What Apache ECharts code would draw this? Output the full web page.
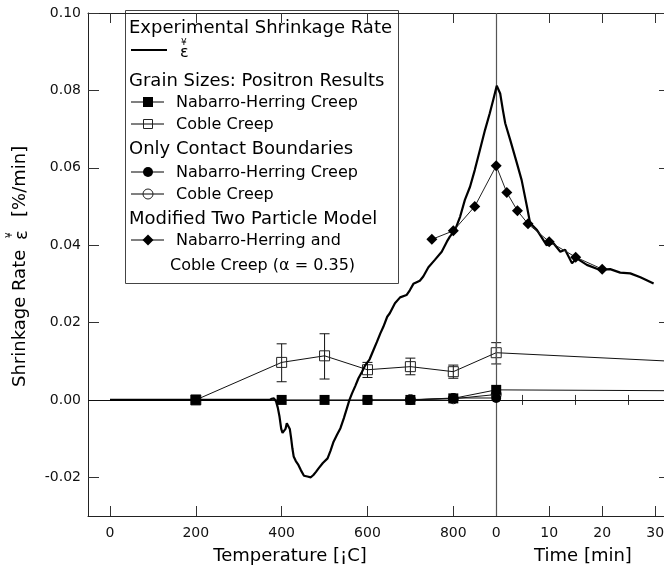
<!DOCTYPE html>
<html><head><meta charset="utf-8">
<script src="https://cdn.jsdelivr.net/npm/echarts@6/dist/echarts.min.js"></script>
<style>html,body{margin:0;padding:0;background:#fff}#c{width:664px;height:569px}</style>
</head><body><div id="c"></div>
<script>
// ---------- tick labels ----------
const tempTicks = [0, 200, 400, 600, 800];          // °C
const timeTicks = [0, 10, 20, 30];                  // min
const timeMinorTicks = [5, 15, 25];                 // min
const yTicks = [-0.02, 0.00, 0.02, 0.04, 0.06, 0.08, 0.10];

// ---------- experimental shrinkage rate ----------
const expHeat = [[0,0],[100,0],[200,0],[300,0],[372,0],[377,0.0003],[382,0.0004],[387,-0.0004],[391,-0.002],[395,-0.0043],[399,-0.0075],[402,-0.0085],[406,-0.0088],[409,-0.0075],[412,-0.006],[416,-0.0056],[419,-0.0075],[422,-0.0098],[425,-0.0125],[428,-0.0146],[433,-0.0158],[439,-0.0168],[445,-0.0182],[452,-0.0196],[460,-0.0198],[468,-0.0200],[474,-0.0194],[480,-0.0186],[486,-0.0177],[496,-0.0163],[507,-0.0151],[514,-0.0131],[521,-0.0108],[529,-0.009],[537,-0.0073],[545,-0.0047],[552,-0.0022],[558,0],[564,0.0017],[572,0.0037],[579,0.0056],[587,0.0072],[595,0.009],[605,0.0105],[614,0.0129],[622,0.015],[630,0.0172],[637,0.0189],[646,0.0215],[652,0.0224],[664,0.025],[676,0.0265],[691,0.0271],[699,0.0284],[707,0.03],[722,0.0308],[730,0.0319],[742,0.0343],[757,0.0362],[773,0.0383],[785,0.0409],[792,0.0422],[804,0.0439],[816,0.0474],[827,0.0517],[839,0.0551],[850,0.0594],[862,0.0646],[874,0.0698],[885,0.0741],[893,0.0775]];
const expIso = [[0.1,0.0812],[0.25,0.0817],[0.75,0.0792],[1.26,0.0749],[1.7,0.0715],[2.64,0.0672],[3.9,0.0612],[4.8,0.0568],[5.8,0.05],[6.4,0.0457],[7.7,0.0439],[8.9,0.0413],[9.5,0.04],[10.8,0.0405],[12.1,0.0383],[13,0.0388],[14.3,0.0353],[15.2,0.0366],[17.1,0.0349],[19.6,0.0336],[21.5,0.0338],[23.4,0.0329],[25.3,0.0327],[27.2,0.0317],[29.7,0.0301]];

// ---------- grain sizes: positron results ----------
const nhGrainHeat = [[200,0],[400,0],[500,0],[600,0],[700,0],[800,0.0004]];
const nhGrainIso = [[0,0.0026],[60,0.0022]];
const cobleGrainHeat = [[200,0],[400,0.0097],[500,0.0114],[600,0.0078],[700,0.0086],[800,0.0073]];
const cobleGrainIso = [[0,0.0122],[60,0.0082]];
const cobleGrainErrHeat = [[400,0.0047,0.0145],[500,0.0054,0.0171],[600,0.0058,0.0097],[700,0.0065,0.0108],[800,0.0056,0.009]];
const cobleGrainErrIso = [[0,0.0093,0.0148]];

// ---------- only contact boundaries ----------
const nhContactHeat = [[600,0],[700,0],[800,0.0005]];
const nhContactIso = [[0,0.0005]];
const cobleContactHeat = [[700,0.0001],[800,0.0003]];
const cobleContactIso = [[0,0.0014]];

// ---------- modified two particle model ----------
const modelHeat = [[750,0.0415],[800,0.0437],[850,0.05]];
const modelIso = [[0,0.0605],[2,0.0536],[4,0.0489],[6,0.0455],[10,0.0409],[15,0.0369],[20,0.0338]];

// ---------- combined axis mapping ----------
const TIME_ORIGIN = 900;      // axis unit where the isothermal time axis starts
const UNITS_PER_MIN = 12.35;  // axis units per minute
const X_MIN = -51.27, X_MAX = 1291.0;
const tU = t => TIME_ORIGIN + UNITS_PER_MIN * t;
const join = (heat, iso) => heat.map(p => [p[0], p[1]]).concat(iso.map(p => [tU(p[0]), p[1]]));

const majorU = tempTicks.concat(timeTicks.map(tU));
const minorU = timeMinorTicks.map(tU);
const FONT = '"DejaVu Sans", sans-serif';

function fmtX(v) {
  if (v <= 800.5) return String(Math.round(v));
  return String(Math.round((v - TIME_ORIGIN) / UNITS_PER_MIN));
}

const errAll = cobleGrainErrHeat.concat(cobleGrainErrIso);
const errData = join(cobleGrainErrHeat, cobleGrainErrIso).map((p, i) => [p[0], errAll[i][1], errAll[i][2]]);

const chart = echarts.init(document.getElementById('c'), null, {renderer: 'canvas'});

const baseX = {type: 'value', min: X_MIN, max: X_MAX, splitLine: {show: false}};
const option = {
  animation: false,
  backgroundColor: '#fff',
  grid: {left: 88, right: 0, top: 13, bottom: 53, containLabel: false, outerBoundsMode: 'none'},
  xAxis: [
    Object.assign({}, baseX, {position: 'bottom',
      axisLine: {show: true, onZero: false, lineStyle: {color: '#222', width: 1}},
      axisTick: {show: true, inside: true, length: 10, customValues: majorU, lineStyle: {color: '#333'}},
      axisLabel: {show: true, customValues: majorU, formatter: fmtX, margin: 10, color: '#111', fontSize: 14, fontFamily: FONT}}),
    Object.assign({}, baseX, {position: 'bottom',
      axisLine: {show: false},
      axisTick: {show: true, inside: true, length: 5, customValues: minorU, lineStyle: {color: '#333'}},
      axisLabel: {show: false}}),
    Object.assign({}, baseX, {position: 'top',
      axisLine: {show: true, onZero: false, lineStyle: {color: '#222', width: 1}},
      axisTick: {show: true, inside: true, length: 10, customValues: majorU, lineStyle: {color: '#333'}},
      axisLabel: {show: false}}),
    Object.assign({}, baseX, {position: 'top',
      axisLine: {show: false},
      axisTick: {show: true, inside: true, length: 5, customValues: minorU, lineStyle: {color: '#333'}},
      axisLabel: {show: false}})
  ],
  yAxis: [
    {type: 'value', min: -0.03, max: 0.10, position: 'left', splitLine: {show: false},
      axisLine: {show: true, onZero: false, lineStyle: {color: '#222', width: 1}},
      axisTick: {show: true, inside: true, length: 11, customValues: yTicks, lineStyle: {color: '#333'}},
      axisLabel: {show: true, customValues: yTicks, formatter: v => v.toFixed(2), margin: 7, color: '#111', fontSize: 14, fontFamily: FONT}},
    {type: 'value', min: -0.03, max: 0.10, position: 'right', splitLine: {show: false},
      axisLine: {show: false, onZero: false},
      axisTick: {show: true, inside: true, length: 5, customValues: yTicks, lineStyle: {color: '#333'}},
      axisLabel: {show: false}}
  ],
  series: [
    {type: 'line', name: 'ref', data: [], z: 1,
      markLine: {silent: true, symbol: 'none', label: {show: false}, animation: false,
        data: [
          {yAxis: 0, lineStyle: {color: '#111', width: 1, type: 'solid'}},
          {xAxis: TIME_ORIGIN, lineStyle: {color: '#555', width: 1.2, type: 'solid'}}
        ]}},
    {type: 'custom', name: 'err', z: 3, data: errData,
      renderItem: function (params, api) {
        const x = api.value(0);
        const lo = api.coord([x, api.value(1)]);
        const hi = api.coord([x, api.value(2)]);
        const w = 5;
        const st = {stroke: '#111', lineWidth: 1};
        return {type: 'group', children: [
          {type: 'line', shape: {x1: lo[0], y1: lo[1], x2: hi[0], y2: hi[1]}, style: st},
          {type: 'line', shape: {x1: lo[0] - w, y1: lo[1], x2: lo[0] + w, y2: lo[1]}, style: st},
          {type: 'line', shape: {x1: hi[0] - w, y1: hi[1], x2: hi[0] + w, y2: hi[1]}, style: st}
        ]};
      }},
    {type: 'line', name: 'Coble grain', z: 4, data: join(cobleGrainHeat, cobleGrainIso),
      symbol: 'rect', symbolSize: 10, showAllSymbol: true,
      lineStyle: {color: '#111', width: 1},
      itemStyle: {color: 'rgba(0,0,0,0)', borderColor: '#222', borderWidth: 1}},
    {type: 'line', name: 'Coble contact', z: 4, data: join(cobleContactHeat, cobleContactIso),
      symbol: 'circle', symbolSize: 10, showAllSymbol: true,
      lineStyle: {color: '#111', width: 1},
      itemStyle: {color: 'rgba(0,0,0,0)', borderColor: '#222', borderWidth: 1}},
    {type: 'line', name: 'NH contact', z: 5, data: join(nhContactHeat, nhContactIso),
      symbol: 'circle', symbolSize: 10, showAllSymbol: true,
      lineStyle: {color: '#111', width: 1}, itemStyle: {color: '#000'}},
    {type: 'line', name: 'NH grain', z: 5, data: join(nhGrainHeat, nhGrainIso),
      symbol: 'rect', symbolSize: 10, showAllSymbol: true,
      lineStyle: {color: '#111', width: 1}, itemStyle: {color: '#000'}},
    {type: 'line', name: 'Experimental', z: 6, data: join(expHeat, expIso),
      showSymbol: false, symbol: 'none', smooth: false,
      lineStyle: {color: '#000', width: 2.2}},
    {type: 'line', name: 'Model', z: 7, data: join(modelHeat, modelIso),
      symbol: 'diamond', symbolSize: 11, showAllSymbol: true,
      lineStyle: {color: '#222', width: 1}, itemStyle: {color: '#000'}}
  ],
  graphic: [
    // axis titles
    {type: 'text', z: 50, style: {text: 'Temperature [¡C]', x: 290, y: 556, fill: '#000', fontSize: 18, fontFamily: FONT, textAlign: 'center', align: 'center', textVerticalAlign: 'middle', verticalAlign: 'middle'}},
    {type: 'text', z: 50, style: {text: 'Time [min]', x: 583, y: 556, fill: '#000', fontSize: 18, fontFamily: FONT, textAlign: 'center', align: 'center', textVerticalAlign: 'middle', verticalAlign: 'middle'}},
    {type: 'group', x: 20, y: 387, rotation: Math.PI / 2, z: 50, children: [
      {type: 'text', style: {text: 'Shrinkage Rate', x: 0, y: 0, fill: '#000', fontSize: 18, fontFamily: FONT, align: 'left', textAlign: 'left', verticalAlign: 'middle', textVerticalAlign: 'middle'}},
      {type: 'text', style: {text: 'ε', x: 147, y: 2, fill: '#000', fontSize: 18, fontFamily: FONT, align: 'left', textAlign: 'left', verticalAlign: 'middle', textVerticalAlign: 'middle'}},
      {type: 'text', style: {text: '¥', x: 149, y: -10, fill: '#000', fontSize: 9, fontFamily: FONT, align: 'left', textAlign: 'left', verticalAlign: 'middle', textVerticalAlign: 'middle'}},
      {type: 'text', style: {text: '[%/min]', x: 170, y: 0, fill: '#000', fontSize: 18, fontFamily: FONT, align: 'left', textAlign: 'left', verticalAlign: 'middle', textVerticalAlign: 'middle'}}
    ]},
    // legend box
    {type: 'group', z: 100, children: [
      {type: 'rect', shape: {x: 125.5, y: 10.5, width: 273, height: 273}, style: {fill: '#fff', stroke: '#444', lineWidth: 1}},
      {type: 'text', style: {text: 'Experimental Shrinkage Rate', x: 129, y: 28, fill: '#000', fontSize: 18, fontFamily: FONT, align: 'left', textAlign: 'left', verticalAlign: 'middle', textVerticalAlign: 'middle'}},
      {type: 'line', shape: {x1: 131, y1: 50, x2: 167, y2: 50}, style: {stroke: '#000', lineWidth: 2.2}},
      {type: 'text', style: {text: 'ε', x: 180, y: 53, fill: '#000', fontSize: 16, fontFamily: FONT, align: 'left', textAlign: 'left', verticalAlign: 'middle', textVerticalAlign: 'middle'}},
      {type: 'text', style: {text: '¥', x: 181, y: 43, fill: '#000', fontSize: 9, fontFamily: FONT, align: 'left', textAlign: 'left', verticalAlign: 'middle', textVerticalAlign: 'middle'}},
      {type: 'text', style: {text: 'Grain Sizes: Positron Results', x: 129, y: 81, fill: '#000', fontSize: 18, fontFamily: FONT, align: 'left', textAlign: 'left', verticalAlign: 'middle', textVerticalAlign: 'middle'}},
      {type: 'line', shape: {x1: 131, y1: 102, x2: 164, y2: 102}, style: {stroke: '#000', lineWidth: 1}},
      {type: 'rect', shape: {x: 143, y: 97, width: 10, height: 10}, style: {fill: '#000'}},
      {type: 'text', style: {text: 'Nabarro-Herring Creep', x: 176, y: 103, fill: '#000', fontSize: 16, fontFamily: FONT, align: 'left', textAlign: 'left', verticalAlign: 'middle', textVerticalAlign: 'middle'}},
      {type: 'line', shape: {x1: 131, y1: 124, x2: 164, y2: 124}, style: {stroke: '#000', lineWidth: 1}},
      {type: 'rect', shape: {x: 143.5, y: 119.5, width: 9, height: 9}, style: {fill: 'none', stroke: '#222', lineWidth: 1}},
      {type: 'text', style: {text: 'Coble Creep', x: 176, y: 125, fill: '#000', fontSize: 16, fontFamily: FONT, align: 'left', textAlign: 'left', verticalAlign: 'middle', textVerticalAlign: 'middle'}},
      {type: 'text', style: {text: 'Only Contact Boundaries', x: 129, y: 149, fill: '#000', fontSize: 18, fontFamily: FONT, align: 'left', textAlign: 'left', verticalAlign: 'middle', textVerticalAlign: 'middle'}},
      {type: 'line', shape: {x1: 131, y1: 172, x2: 164, y2: 172}, style: {stroke: '#000', lineWidth: 1}},
      {type: 'circle', shape: {cx: 148, cy: 172, r: 5}, style: {fill: '#000'}},
      {type: 'text', style: {text: 'Nabarro-Herring Creep', x: 176, y: 173, fill: '#000', fontSize: 16, fontFamily: FONT, align: 'left', textAlign: 'left', verticalAlign: 'middle', textVerticalAlign: 'middle'}},
      {type: 'line', shape: {x1: 131, y1: 194, x2: 164, y2: 194}, style: {stroke: '#000', lineWidth: 1}},
      {type: 'circle', shape: {cx: 148, cy: 194, r: 5}, style: {fill: 'none', stroke: '#222', lineWidth: 1}},
      {type: 'text', style: {text: 'Coble Creep', x: 176, y: 195, fill: '#000', fontSize: 16, fontFamily: FONT, align: 'left', textAlign: 'left', verticalAlign: 'middle', textVerticalAlign: 'middle'}},
      {type: 'text', style: {text: 'Modified Two Particle Model', x: 129, y: 219, fill: '#000', fontSize: 18, fontFamily: FONT, align: 'left', textAlign: 'left', verticalAlign: 'middle', textVerticalAlign: 'middle'}},
      {type: 'line', shape: {x1: 131, y1: 240, x2: 164, y2: 240}, style: {stroke: '#000', lineWidth: 1}},
      {type: 'polygon', shape: {points: [[148, 234.5], [153.5, 240], [148, 245.5], [142.5, 240]]}, style: {fill: '#000'}},
      {type: 'text', style: {text: 'Nabarro-Herring and', x: 176, y: 241, fill: '#000', fontSize: 16, fontFamily: FONT, align: 'left', textAlign: 'left', verticalAlign: 'middle', textVerticalAlign: 'middle'}},
      {type: 'text', style: {text: 'Coble Creep (α = 0.35)', x: 170, y: 266, fill: '#000', fontSize: 16, fontFamily: FONT, align: 'left', textAlign: 'left', verticalAlign: 'middle', textVerticalAlign: 'middle'}}
    ]}
  ]
};
chart.setOption(option);
</script>
</body></html>
